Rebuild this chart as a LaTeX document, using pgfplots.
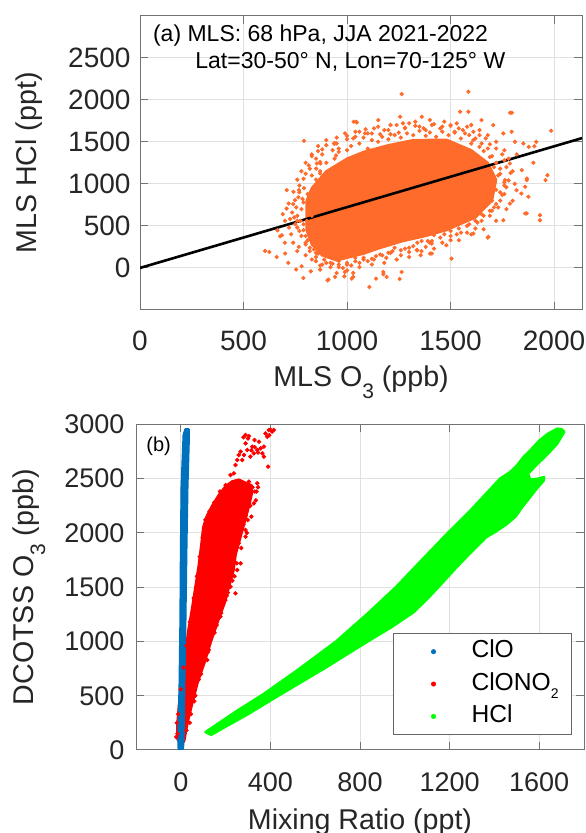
\documentclass[border=0pt]{standalone}
\usepackage{fontspec}
\setmainfont{Liberation Sans}
\usepackage{pgfplots}
\pgfplotsset{compat=1.18}
\definecolor{orng}{RGB}{255,107,43}
\definecolor{clo}{RGB}{0,114,189}
\definecolor{clono}{RGB}{255,0,0}
\definecolor{hcl}{RGB}{0,255,0}
\newcommand{\sub}[1]{\raisebox{-0.41em}{\fontsize{10.5}{12}\selectfont #1}}
\pgfplotsset{
  mlsstyle/.style={
    scale only axis,
    axis line style={black!55, line width=0.5pt},
    tick style={black!55, line width=0.5pt},
    major tick length=4pt,
    tick align=inside,
    grid=major,
    major grid style={black!12, line width=0.5pt},
    /pgf/number format/assume math mode=true,
    /pgf/number format/1000 sep={},
    tick label style={color=black!85},
    clip=true,
  }
}
\begin{document}
\begin{tikzpicture}
%% ---------------- panel (a) ----------------
\begin{axis}[mlsstyle,
  at={(70pt,261.5pt)}, anchor=south west,
  width=221pt, height=147.15pt,
  xmin=0, xmax=2135, ymin=-500, ymax=3000,
  xtick={0,500,1000,1500,2000},
  ytick={0,500,1000,1500,2000,2500},
  tick label style={font=\fontsize{14}{16}\selectfont},
  xticklabel style={yshift=-7pt},
  yticklabel style={xshift=-1.2pt},
  every axis x label/.style={at={(rel axis cs:0.5,-0.2606)}, anchor=base, color=black!85, font=\fontsize{14.3}{16}\selectfont},
  every axis y label/.style={at={(rel axis cs:-0.25,0.5)}, rotate=90, anchor=center, color=black!85, font=\fontsize{14.3}{16}\selectfont},
  xlabel={MLS O\sub{3} (ppb)},
  ylabel={MLS HCl (ppt)},
]
% dense core of the scatter cloud
\addplot[fill=orng, draw=orng, line width=1.2pt, line join=round] coordinates {
(805,450) (805,800) (830,950) (900,1150) (1000,1300) (1080,1380) (1200,1460) (1320,1520)
(1480,1525) (1600,1400) (1680,1250) (1720,1050) (1700,800) (1620,600) (1480,450)
(1380,380) (1270,320) (1150,230) (1080,170) (950,90) (880,150) (830,280)} -- cycle;
% halo, fringe and outlying points
\addplot[only marks, mark=*, mark size=0.85pt, color=orng, mark options={fill=orng, draw=orng}] coordinates {
(850,1050) (870,1150) (830,1100) (900,1250) (940,1300) (960,1380) (1000,1400) (1020,1450)
(1060,1480) (1100,1420) (1120,1520) (1150,1500) (1170,1560) (1200,1530) (1230,1580)
(1260,1550) (1290,1600) (1320,1580) (1350,1630) (1380,1570) (1400,1610) (1430,1560)
(1460,1620) (1490,1580) (1520,1610) (1550,1540) (1570,1600) (1600,1480) (1620,1540)
(1640,1440) (1660,1390) (1690,1320) (1710,1200) (1740,1120) (1760,980) (1740,900)
(1720,760) (1700,680) (1660,620) (1630,540) (1580,500) (1550,420) (1500,380) (1450,360)
(1400,300) (1360,320) (1320,260) (1280,230) (1230,240) (1200,180) (1160,160) (1120,110)
(1080,100) (1040,120) (1000,40) (960,10) (920,60) (880,40) (850,180) (820,240) (800,380)
(790,520) (780,700) (790,780) (810,880) (760,620) (770,440) (750,520) (740,760) (730,400)
(720,480) (700,560) (700,300) (690,640) (740,300) (760,200) (800,150) (830,100) (870,-20)
(950,-60) (1000,-30) (1060,10) (1120,40) (1180,60) (1240,100) (1300,130) (1360,200)
(1420,230) (1480,270) (1540,330) (1600,400) (1660,460) (1720,560) (1770,700) (1800,800)
(1810,1000) (1800,1150) (1780,1300) (1760,1400) (1720,1500) (1680,1580) (1640,1640)
(1600,1700) (1530,1720) (1470,1740) (1400,1760) (1330,1740) (1270,1720) (1210,1700)
(1150,1680) (1090,1650) (1040,1620) (990,1600) (950,1550) (900,1520) (860,1450)
(830,1350) (800,1250) (780,1150) (760,1050)
(760,480) (745,600) (755,720) (765,840) (770,980) (790,1060) (760,560) (735,660) (780,380)
(800,300) (770,900) (815,1220) (850,1300) (870,1260) (880,1410) (930,1400) (950,1480)
(1000,1530) (1040,1560) (1080,1550) (1120,1600) (1160,1590) (1200,1640) (1250,1610)
(1280,1670) (1330,1690) (1370,1660) (1410,1700) (1460,1680) (1500,1700) (1540,1660)
(1580,1680) (1610,1620) (1640,1580) (1670,1540) (1690,1470) (1720,1420) (1750,1350)
(1760,1280) (1770,1200) (1790,1130) (1780,1040) (1770,960) (1760,880) (1740,800)
(1710,720) (1690,680) (1650,640) (1620,560) (1590,520) (1540,470) (1500,440) (1470,400)
(1420,390) (1390,320) (1340,300) (1300,240) (1260,210) (1210,180) (1170,150) (1130,100)
(1080,120) (1040,80) (1000,60) (960,80) (930,50) (890,100) (860,170) (850,80) (820,200)
(800,280)
(790,450) (775,560) (785,820) (792,950) (800,1120) (820,1180) (830,1330) (860,1390)
(880,1350) (900,1460) (940,1480) (960,1420) (1000,1570) (1030,1540) (1060,1620)
(1100,1600) (1130,1660) (1180,1640) (1210,1590) (1240,1700) (1280,1660) (1300,1720)
(1350,1680) (1380,1640) (1420,1710) (1450,1660) (1500,1690) (1520,1620) (1560,1640)
(1590,1580) (1610,1520) (1650,1480) (1680,1420) (1700,1330) (1720,1250) (1740,1180)
(1730,1100) (1760,1020) (1720,930) (1750,870) (1700,800) (1730,720) (1690,620)
(1650,560) (1620,470) (1580,420) (1530,400) (1500,330) (1460,300) (1410,320)
(1380,250) (1340,210) (1300,190) (1260,150) (1220,200) (1190,120) (1140,140)
(1100,80) (1060,60) (1020,30) (980,0) (960,40) (920,10) (900,60) (870,30) (850,130)
(840,220) (810,330) (820,380) (805,560) (830,620)
(792,1512) (604,202) (625,190) (660,131) (677,377) (709,925) (708,706) (725,582)
(741,905) (749,806) (767,250) (768,925) (754,-19) (716,60) (701,171) (781,20)
(789,-119) (825,-40) (854,1242) (870,1123) (851,1182) (910,-139) (947,1338)
(942,1481) (987,-100) (1030,-60) (1044,1738) (1087,1600) (1108,-226) (1140,-127)
(1151,1758) (1264,2068) (1586,2095) (1796,1845) (1256,1798) (1047,1730) (1361,1798)
(1546,1857) (1650,1758) (1706,1699) (1755,1600) (1795,1619) (1811,1500) (1852,1480)
(1844,1163) (1868,1044) (1860,965) (1876,846) (1868,648) (1787,766) (1755,568)
(1683,369) (1610,409) (1505,111) (1401,171) (1409,290) (1337,211) (1264,-48)
(1175,-48) (1191,-107) (1030,-107) (990,-48) (1787,1242) (1819,925) (1763,1044)
(1986,1631) (1959,1044) (1968,1103) (1932,627) (1932,567) (1860,647) (1905,1448)
(1869,1063) (1842,885) (1788,1845) (1680,361) (1914,1500) (1878,1440) (1410,171)
(1356,151) (1254,-131) (1176,-75) (906,-147) (942,-107) (1023,-127) (1032,1738)
(937,1480) (871,1242) (718,766) (664,448) (685,389) (1586,1857) (1900,1250) (1820,1350)
};
% regression line
\addplot[black, line width=1.3pt] coordinates {(0,0) (2135,1544)};
\node[anchor=base west, inner sep=0pt, font=\fontsize{11.5}{13}\selectfont] at (rel axis cs:0.0287,0.9117) {(a) MLS: 68 hPa, JJA 2021-2022};
\node[anchor=base west, inner sep=0pt, font=\fontsize{11.5}{13}\selectfont] at (rel axis cs:0.1244,0.8213) {Lat=30-50° N, Lon=70-125° W};
\end{axis}
%% ---------------- panel (b) ----------------
\begin{axis}[mlsstyle,
  at={(68pt,41.5pt)}, anchor=south west,
  width=224pt, height=162.85pt,
  xmin=-200, xmax=1800, ymin=0, ymax=3000,
  xtick={0,400,800,1200,1600},
  ytick={0,500,1000,1500,2000,2500,3000},
  tick label style={font=\fontsize{13.5}{16}\selectfont},
  xticklabel style={yshift=-7.7pt},
  yticklabel style={xshift=-2.3pt},
  every axis x label/.style={at={(rel axis cs:0.5,-0.2435)}, anchor=base, color=black!85, font=\fontsize{14.3}{16}\selectfont},
  every axis y label/.style={at={(rel axis cs:-0.239,0.5)}, rotate=90, anchor=center, color=black!85, font=\fontsize{14.3}{16}\selectfont},
  xlabel={Mixing Ratio (ppt)},
  ylabel={DCOTSS O\sub{3} (ppb)},
  legend style={at={(rel axis cs:0.5737,0.360)}, anchor=north west,
    draw=black!60, line width=0.5pt, fill=white,
    font=\fontsize{12.3}{14}\selectfont,
    inner xsep=5.5pt, inner ysep=2.2pt, row sep=2.2pt,
    nodes={inner sep=1pt, text height=9pt, text depth=3pt}},
  legend cell align=left,
  legend image code/.code={\path[draw=none] (0pt,0pt) -- (32.5pt,0pt); \draw[#1] plot coordinates {(14.5pt,0pt)};},
]
\addlegendimage{only marks, mark=*, mark size=1pt, color=clo, mark options={fill=clo, draw=clo}}
\addlegendentry{ClO}
\addlegendimage{only marks, mark=*, mark size=1pt, color=clono, mark options={fill=clono, draw=clono}}
\addlegendentry{ClONO\raisebox{-4.2pt}{\fontsize{7}{8}\selectfont 2}}
\addlegendimage{only marks, mark=*, mark size=1pt, color=hcl, mark options={fill=hcl, draw=hcl}}
\addlegendentry{HCl}
% ClONO2 dense core
\addplot[forget plot, fill=clono, draw=clono, line width=1.2pt, line join=round] coordinates {
(0,50) (15,80) (30,250) (50,420) (75,620) (105,800) (135,1000) (165,1180) (195,1350)
(215,1500) (235,1650) (245,1800) (265,1950) (285,2100) (305,2250) (318,2370) (315,2440)
(290,2460) (260,2490) (230,2475) (200,2430) (170,2350) (140,2250) (115,2150) (100,2050)
(92,1900) (80,1700) (65,1500) (50,1300) (35,1120) (20,900) (5,650) (-8,420) (-15,250) (-15,100)} -- cycle;
\addplot[forget plot, only marks, mark=*, mark size=0.9pt, color=clono, mark options={fill=clono, draw=clono}] coordinates {
(289,1965) (259,1904) (252,1658) (244,1443) (267,1719) (222,1504) (199,1381) (177,1228)
(133,1075) (125,921) (118,829) (300,2300) (320,2420) (330,2380) (310,2250) (280,2080)
(290,2160) (240,1600) (210,1450) (160,1150) (100,800) (80,650) (60,450) (40,250) (-15,150) (-18,250)
(304,2472) (341,2457) (338,2380) (326,2272) (299,2119) (289,2027)
(-20,120) (-12,330) (0,560) (12,760) (25,960) (40,1180) (58,1400) (72,1600) (85,1780)
(98,1960) (110,2120) (128,2200) (150,2280) (175,2380) (200,2440)
(25,180) (45,330) (65,500) (90,700) (120,900) (150,1080) (180,1260) (205,1420) (230,1560)
(250,1720) (270,1860) (295,2000) (315,2150) (335,2300) (345,2420)
(289,2901) (304,2892) (329,2855) (349,2840) (378,2916) (393,2947) (408,2932) (415,2947)
(386,2886) (371,2794) (364,2732) (341,2763) (319,2794) (297,2763) (282,2717) (267,2748)
(252,2671) (244,2625) (274,2671) (311,2702) (326,2732) (356,2778) (390,2610) (371,2702)
(289,2824) (259,2717) (237,2548) (222,2533) (300,2870) (280,2880) (395,2900) (400,2950)
(330,2790) (345,2740) (315,2760)
};
% ClO band
\addplot[forget plot, fill=clo, draw=clo, line width=1pt, line join=round] coordinates {
(-10,0) (-12,120) (-6,580) (-2,1200) (0,1800) (3,2420) (12,2900) (20,2955)
(36,2955) (36,2850) (30,2420) (25,1800) (21,1200) (16,580) (13,120) (10,0)} -- cycle;
% HCl band
\addplot[forget plot, fill=hcl, draw=hcl, line width=1.2pt, line join=round] coordinates {
(110,165) (250,360) (369,515) (520,735) (693,1000) (830,1250) (960,1500) (1080,1760)
(1192,2000) (1290,2200) (1380,2400) (1425,2500) (1470,2560) (1500,2620) (1530,2700)
(1560,2760) (1600,2850) (1640,2915) (1680,2960) (1700,2955)
(1712,2930) (1680,2820) (1640,2730) (1590,2630) (1550,2545) (1560,2490) (1595,2500)
(1622,2515) (1620,2480) (1590,2410) (1560,2330) (1525,2240) (1495,2150) (1455,2080)
(1405,2010) (1364,1960) (1300,1830) (1230,1680) (1159,1520) (1100,1390) (1040,1270)
(940,1130) (835,1000) (640,750) (436,500) (300,330) (136,140)} -- cycle;
\node[anchor=base west, inner sep=0pt, font=\fontsize{10}{12}\selectfont] at (rel axis cs:0.0223,0.918) {(b)};
\end{axis}
\pgfresetboundingbox
\useasboundingbox (0,0) rectangle (292.5pt,416.5pt);
\end{tikzpicture}
\end{document}
